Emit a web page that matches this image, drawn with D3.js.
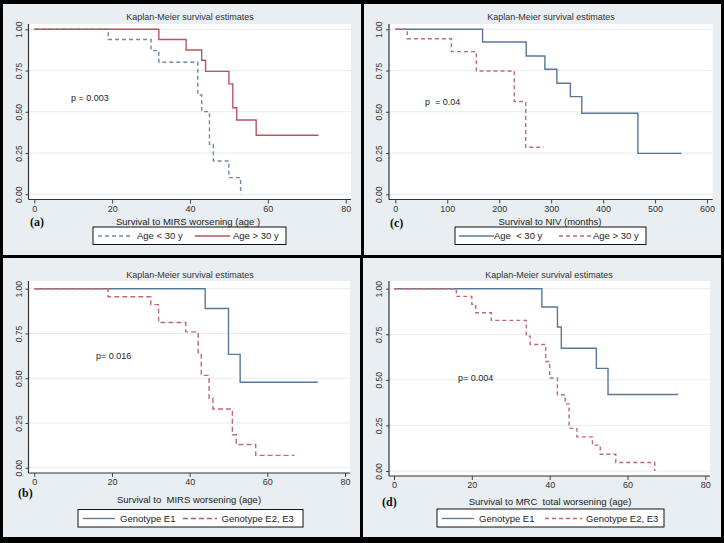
<!DOCTYPE html>
<html><head><meta charset="utf-8">
<script src="https://cdn.jsdelivr.net/npm/d3@7"></script>
<style>body{margin:0;background:#000}svg{display:block}text{white-space:pre}</style>
</head><body>
<script>
// ---------- DATA ----------
const yTickValues = [0, 0.25, 0.5, 0.75, 1];
const ageXTicks = [0, 20, 40, 60, 80];
const monthXTicks = [0, 100, 200, 300, 400, 500, 600];
const titleText = "Kaplan-Meier survival estimates";

// (a) Survival to MIRS worsening (age)
const aLt30Time = [0, 19, 30, 32, 42, 43, 45, 46, 50, 53];
const aLt30Surv = [1, 0.938, 0.871, 0.80, 0.602, 0.501, 0.303, 0.202, 0.101, 0];
const aLt30End = 53;
const aGt30Time = [0, 32, 39, 43, 44, 50, 51, 52, 57];
const aGt30Surv = [1, 0.938, 0.875, 0.812, 0.745, 0.669, 0.525, 0.45, 0.358];
const aGt30End = 73;

// (c) Survival to NIV (months)
const cLt30Time = [0, 168, 252, 288, 311, 337, 359, 467];
const cLt30Surv = [1, 0.923, 0.838, 0.758, 0.673, 0.592, 0.491, 0.248];
const cLt30End = 551;
const cGt30Time = [0, 23, 108, 156, 229, 251];
const cGt30Surv = [1, 0.943, 0.865, 0.747, 0.562, 0.285];
const cGt30End = 286;

// (b) Survival to MIRS worsening (age), by genotype
const bE1Time = [0, 44, 50, 53];
const bE1Surv = [1, 0.889, 0.633, 0.477];
const bE1End = 73;
const bE23Time = [0, 19, 30, 32, 39, 42.2, 43, 45, 46, 51, 52, 57];
const bE23Surv = [1, 0.955, 0.911, 0.811, 0.759, 0.642, 0.516, 0.389, 0.328, 0.184, 0.13, 0.069];
const bE23End = 67;

// (d) Survival to MRC total worsening (age), by genotype
const dE1Time = [0, 38, 42, 43, 52, 55];
const dE1Surv = [1, 0.9, 0.79, 0.673, 0.563, 0.42];
const dE1End = 73;
const dE23Time = [0, 16, 20, 21, 25, 34, 35, 39, 40, 42, 44, 45, 47, 51, 53, 57, 67];
const dE23Surv = [1, 0.958, 0.914, 0.868, 0.826, 0.74, 0.694, 0.601, 0.51, 0.418, 0.368, 0.234, 0.187, 0.142, 0.092, 0.047, 0];
const dE23End = 67;

// ---------- STYLE ----------
const RED = "#b65660", BLUE = "#587899", RED_D = "#c06a72", BLUE_D = "#6f8aa8";
const FONT = "'Liberation Sans', Arial, sans-serif";
const W = 724, H = 543;

const svg = d3.select("body").append("svg").attr("width", W).attr("height", H);
svg.append("rect").attr("width", W).attr("height", H).attr("fill", "#000");

const panels = [
  { letter: "(a)", box: [3, 4, 358, 251], plot: [28.5, 24, 351, 199.5], xr: [34.3, 345.7], yr: [194.3, 29.3],
    xDomain: [0, 80], xTicks: ageXTicks, titleY: 19.5, titleX: 190, xTitle: "Survival to MIRS worsening (age )",
    xTitleX: 188, xTitleY: 224.5, letterPos: [30, 226], p: "p = 0.003", pPos: [71, 101],
    legend: { box: [93, 227, 193, 17.5], cy: 236,
      items: [{ x1: 98, x2: 132, tx: 137, color: BLUE_D, dash: "4,3", text: "Age < 30 y" },
              { x1: 195, x2: 230, tx: 233, color: RED, dash: null, text: "Age > 30 y" }] },
    series: [{ t: aLt30Time, s: aLt30Surv, end: aLt30End, color: BLUE_D, dash: "4,3" },
             { t: aGt30Time, s: aGt30Surv, end: aGt30End, color: RED, dash: null }] },
  { letter: "(c)", box: [364, 4, 357, 251], plot: [389, 24, 712.7, 199.5], xr: [395.3, 707], yr: [194.3, 29.3],
    xDomain: [0, 600], xTicks: monthXTicks, titleY: 19.5, titleX: 551, xTitle: "Survival to NIV (months)",
    xTitleX: 550, xTitleY: 224.5, letterPos: [390, 227], p: "p  = 0.04", pPos: [425, 105],
    legend: { box: [455, 227, 191, 17.5], cy: 236,
      items: [{ x1: 459, x2: 494, tx: 494, color: BLUE, dash: null, text: "Age  < 30 y" },
              { x1: 559, x2: 592, tx: 593, color: RED_D, dash: "4,3", text: "Age > 30 y" }] },
    series: [{ t: cLt30Time, s: cLt30Surv, end: cLt30End, color: BLUE, dash: null },
             { t: cGt30Time, s: cGt30Surv, end: cGt30End, color: RED_D, dash: "4,3" }] },
  { letter: "(b)", box: [3, 258, 357, 279], plot: [28.5, 281, 350, 473], xr: [34.3, 345], yr: [467.7, 288.7],
    xDomain: [0, 80], xTicks: ageXTicks, titleY: 277.5, titleX: 190, xTitle: "Survival to  MIRS worsening (age)",
    xTitleX: 189, xTitleY: 503, letterPos: [18, 497], p: "p= 0.016", pPos: [96, 359],
    legend: { box: [78, 509.5, 225, 17.5], cy: 518.5,
      items: [{ x1: 83, x2: 115, tx: 120, color: BLUE, dash: null, text: "Genotype E1" },
              { x1: 183, x2: 217, tx: 221.5, color: RED, dash: "5,3", text: "Genotype E2, E3" }] },
    series: [{ t: bE1Time, s: bE1Surv, end: bE1End, color: BLUE, dash: null },
             { t: bE23Time, s: bE23Surv, end: bE23End, color: RED_D, dash: "5,3" }] },
  { letter: "(d)", box: [363, 258, 358, 279], plot: [389, 281, 710, 476], xr: [394, 705.3], yr: [471, 288.7],
    xDomain: [0, 80], xTicks: ageXTicks, titleY: 277.5, titleX: 549, xTitle: "Survival to MRC  total worsening (age)",
    xTitleX: 550, xTitleY: 504.5, letterPos: [382, 505.5], p: "p= 0.004", pPos: [458, 381],
    legend: { box: [437, 509, 227, 18], cy: 518.5,
      items: [{ x1: 442, x2: 474, tx: 479, color: BLUE, dash: null, text: "Genotype E1" },
              { x1: 545, x2: 582, tx: 586, color: RED_D, dash: "4,3", text: "Genotype E2, E3" }] },
    series: [{ t: dE1Time, s: dE1Surv, end: dE1End, color: BLUE, dash: null },
             { t: dE23Time, s: dE23Surv, end: dE23End, color: RED_D, dash: "4,3" }] }
];

panels.forEach(P => {
  const g = svg.append("g");
  const [bx, by, bw, bh] = P.box;
  g.append("rect").attr("x", bx).attr("y", by).attr("width", bw).attr("height", bh).attr("fill", "#e8eef1");
  const [px0, py0, px1, py1] = P.plot;
  g.append("rect").attr("x", px0).attr("y", py0).attr("width", px1 - px0).attr("height", py1 - py0).attr("fill", "#fff");

  const x = d3.scaleLinear().domain(P.xDomain).range(P.xr);
  const y = d3.scaleLinear().domain([0, 1]).range(P.yr);

  // gridlines
  g.selectAll(".grid").data(yTickValues).join("line")
    .attr("x1", px0).attr("x2", px1).attr("y1", d => y(d)).attr("y2", d => y(d))
    .attr("stroke", "#e4ecef").attr("stroke-width", 1);

  // title
  g.append("text").attr("x", P.titleX).attr("y", P.titleY).attr("text-anchor", "middle")
    .attr("font-family", FONT).attr("font-size", 9).attr("fill", "#333").text(titleText);

  // y axis
  const ya = g.append("g").attr("transform", `translate(${px0},0)`)
    .call(d3.axisLeft(y).tickValues(yTickValues).tickFormat(d3.format(".2f")).tickSize(3));
  ya.select(".domain").remove();
  ya.selectAll("line").attr("stroke", "#444");
  ya.selectAll("text").attr("transform", "rotate(-90)").attr("x", 0).attr("y", -7).attr("dy", 0)
    .attr("text-anchor", "middle").attr("font-family", FONT).attr("font-size", 8.5).attr("fill", "#333");
  g.append("line").attr("x1", px0).attr("x2", px0).attr("y1", py0).attr("y2", py1).attr("stroke", "#333").attr("stroke-width", 1.2);

  // x axis
  const xa = g.append("g").attr("transform", `translate(0,${py1})`)
    .call(d3.axisBottom(x).tickValues(P.xTicks).tickSize(4).tickPadding(2));
  xa.select(".domain").remove();
  xa.selectAll("line").attr("stroke", "#444");
  xa.selectAll("text").attr("font-family", FONT).attr("font-size", 9).attr("fill", "#333");
  g.append("line").attr("x1", px0).attr("x2", px1).attr("y1", py1).attr("y2", py1).attr("stroke", "#333").attr("stroke-width", 1.2);

  // x title
  g.append("text").attr("x", P.xTitleX).attr("y", P.xTitleY).attr("text-anchor", "middle")
    .attr("font-family", FONT).attr("font-size", 9.5).attr("fill", "#222").text(P.xTitle);

  // panel letter
  g.append("text").attr("x", P.letterPos[0]).attr("y", P.letterPos[1])
    .attr("font-family", "'Liberation Serif', 'Times New Roman', serif").attr("font-weight", "bold")
    .attr("font-size", 12).attr("fill", "#111").text(P.letter);

  // p value
  g.append("text").attr("x", P.pPos[0]).attr("y", P.pPos[1])
    .attr("font-family", FONT).attr("font-size", 9).attr("fill", "#222").text(P.p);

  // curves
  const line = d3.line().x(d => x(d[0])).y(d => y(d[1])).curve(d3.curveStepAfter);
  P.series.forEach(S => {
    const pts = S.t.map((t, i) => [t, S.s[i]]);
    if (S.end > S.t[S.t.length - 1]) pts.push([S.end, S.s[S.s.length - 1]]);
    g.append("path").attr("d", line(pts)).attr("fill", "none").attr("stroke", S.color)
      .attr("stroke-width", 1.4).attr("stroke-dasharray", S.dash);
  });

  // legend
  const L = P.legend;
  g.append("rect").attr("x", L.box[0]).attr("y", L.box[1]).attr("width", L.box[2]).attr("height", L.box[3])
    .attr("fill", "#fff").attr("stroke", "#111").attr("stroke-width", 1);
  L.items.forEach(it => {
    g.append("line").attr("x1", it.x1).attr("x2", it.x2).attr("y1", L.cy).attr("y2", L.cy)
      .attr("stroke", it.color).attr("stroke-width", 1.3).attr("stroke-dasharray", it.dash);
    g.append("text").attr("x", it.tx).attr("y", L.cy + 3.3).attr("font-family", FONT).attr("font-size", 9.5)
      .attr("fill", "#222").text(it.text);
  });
});
</script>
</body></html>
